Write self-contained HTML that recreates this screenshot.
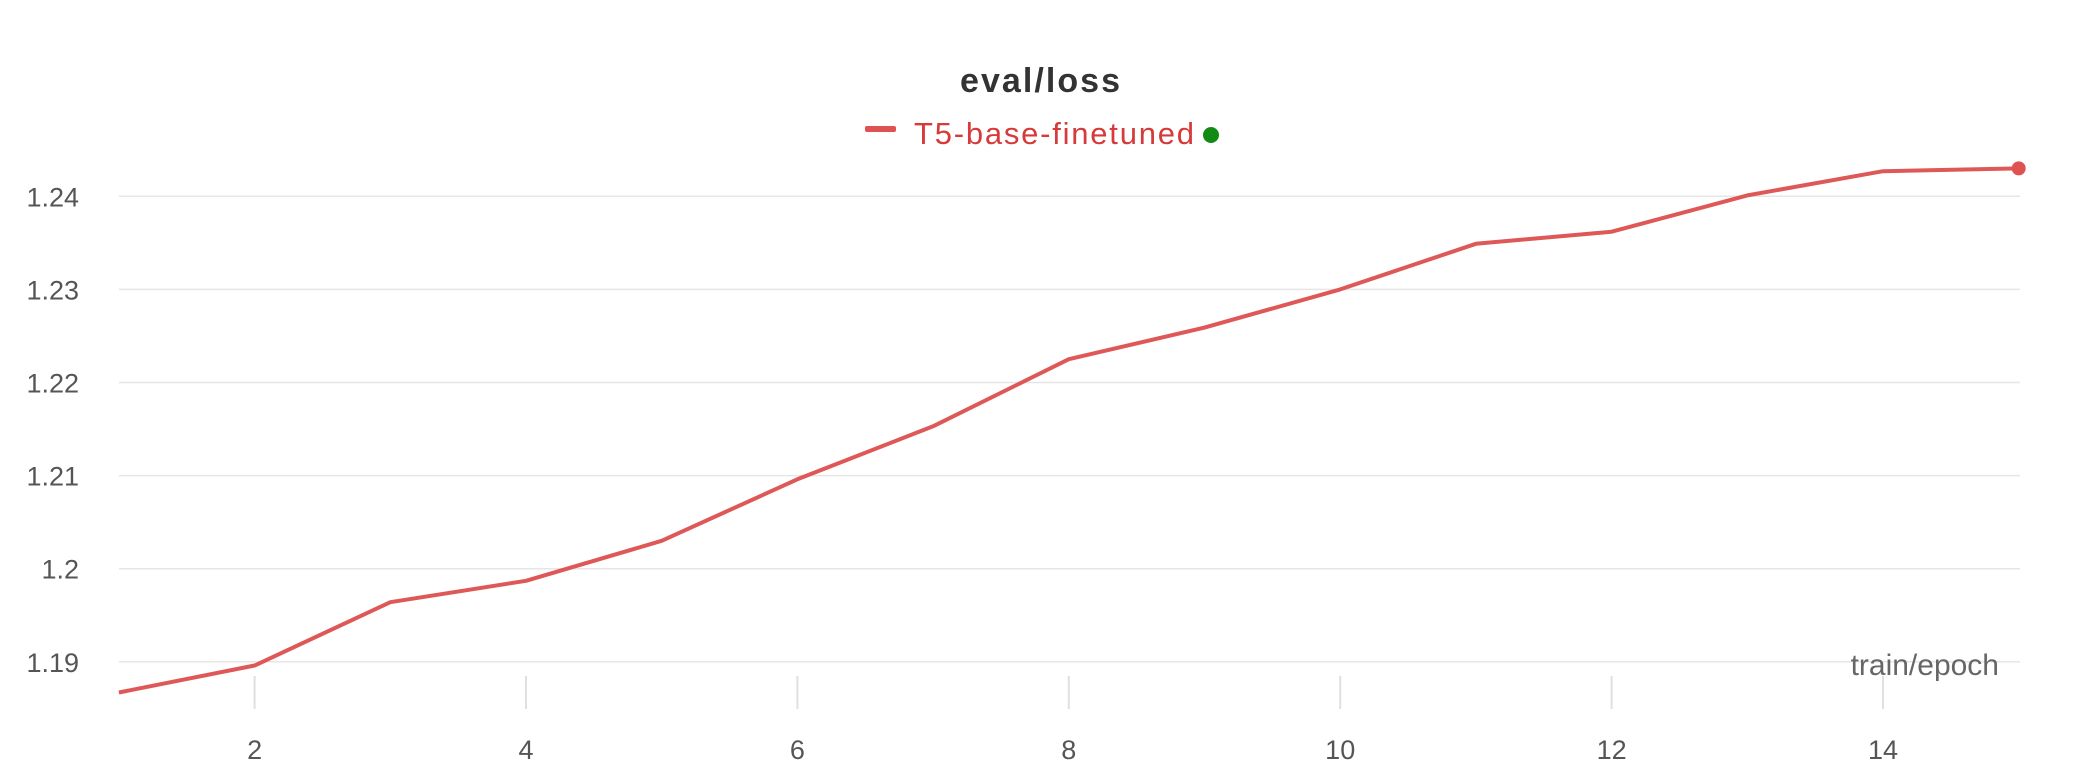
<!DOCTYPE html>
<html><head><meta charset="utf-8"><style>
html,body{margin:0;padding:0;background:#fff;}
svg{display:block;font-family:"Liberation Sans",sans-serif;}
</style></head><body>
<svg id="chart" width="2080" height="784" viewBox="0 0 2080 784">
<text x="1040" y="92" text-anchor="middle" font-size="34" font-weight="bold" fill="#333" textLength="160">eval/loss</text>
<g>
<rect x="865" y="126" width="31" height="6" rx="2" fill="#df5252"></rect>
<text x="914" y="144" font-size="31" fill="#d63a3a" textLength="280">T5-base-finetuned</text>
<circle cx="1211" cy="135" r="8" fill="#138a13"></circle>
</g>
<g id="grid"></g><g id="yticks"></g><g id="xticks"></g>
<text x="1999" y="675" text-anchor="end" font-size="30" fill="#666">train/epoch</text>
<g id="series"></g>
</svg>
<script>
const epochs=[1,2,3,4,5,6,7,8,9,10,11,12,13,14,15];
const lossValues=[1.1867,1.1896,1.1964,1.1987,1.2030,1.2096,1.2153,1.2225,1.2259,1.2300,1.2349,1.2362,1.2401,1.2427,1.2430];
const yTickValues=[1.19,1.2,1.21,1.22,1.23,1.24];
const yTickLabels=["1.19","1.2","1.21","1.22","1.23","1.24"];
const xTickValues=[2,4,6,8,10,12,14];
const NS="http://www.w3.org/2000/svg";
const x=v=>118.9+(v-1)*135.7;
const y=v=>661.8-(v-1.19)/0.01*93.1;
function mk(t,a,p){const e=document.createElementNS(NS,t);for(const k in a)e.setAttribute(k,a[k]);p.appendChild(e);return e;}
const grid=document.getElementById('grid'),yt=document.getElementById('yticks'),xt=document.getElementById('xticks'),se=document.getElementById('series');
yTickValues.forEach((v,i)=>{
 const l=mk('line',{x1:119,x2:2020,y1:y(v),y2:y(v),stroke:'#e6e6e6','stroke-width':1.5},grid);
 
 
 const t=mk('text',{x:79,y:y(v)+10,'text-anchor':'end','font-size':27,fill:'#555'},yt);
 t.textContent=yTickLabels[i];
 
 
});
xTickValues.forEach(v=>{
 const l=mk('line',{x1:x(v),x2:x(v),y1:676,y2:709,stroke:'#e0e0e0','stroke-width':2},xt);
 
 
 const t=mk('text',{x:x(v),y:759,'text-anchor':'middle','font-size':27,fill:'#555'},xt);
 t.textContent=String(v);
 
 
});
const pts=epochs.map((e,i)=>x(e).toFixed(1)+','+y(lossValues[i]).toFixed(1)).join(' ');
const pl=mk('polyline',{points:pts,fill:'none',stroke:'#df5858','stroke-width':4,'stroke-linejoin':'round'},se);


const n=epochs.length-1;
const c=mk('circle',{cx:x(epochs[n]),cy:y(lossValues[n]),r:7,fill:'#df5252'},se);


</script>
</body></html>
